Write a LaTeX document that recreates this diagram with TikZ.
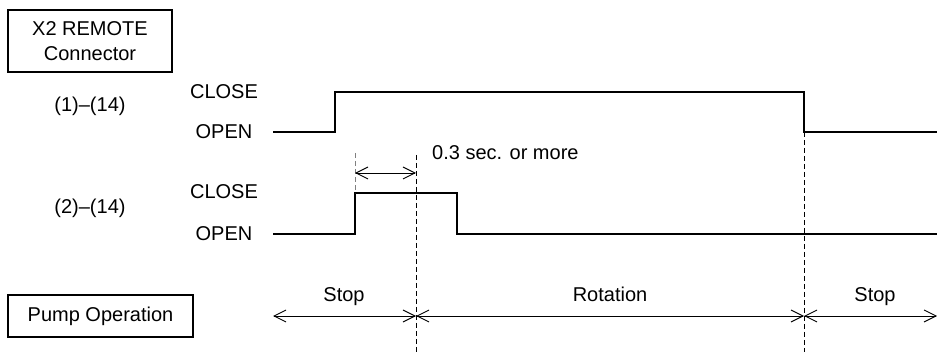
\documentclass[tikz,border=0pt]{standalone}
\usepackage{fontspec}
\setmainfont{Liberation Sans}
\usetikzlibrary{arrows.meta, positioning}
\tikzset{
  font={\fontsize{20pt}{25pt}\selectfont},
  txt/.style={inner sep=0pt, text height=14pt, text depth=0pt},
  sig/.style={line width=2pt, line join=miter},
  guide/.style={line width=0.9pt, dash pattern=on 5pt off 3pt},
  span/.style={line width=0.9pt, {Straight Barb[length=12pt,width=12pt]}-{Straight Barb[length=12pt,width=12pt]}}}

\begin{document}
\begin{tikzpicture}[x=1pt, y=-1pt]
  \useasboundingbox (0,0) rectangle (937,352);
  % boxes on the left
  \node (conn) [draw, line width=1.3pt, shape=rectangle, minimum height=62pt, minimum width=164pt, align=center] at (90,41) {X2 REMOTE\\Connector};
  \node (pump) [draw, line width=1.3pt, shape=rectangle, minimum height=42pt, minimum width=185pt] at (100.5,316) {Pump Operation};
  % signal names and levels
  \node (p1) [txt] at (90,105) {(1)--(14)};
  \node (c1) [txt] at (224,92) {CLOSE};
  \node (o1) [txt] at (224,132) {OPEN};
  \node (p2) [txt] at (90,207) {(2)--(14)};
  \node (c2) [txt] at (224,192) {CLOSE};
  \node (o2) [txt] at (224,234) {OPEN};
  % time points
  \coordinate (a0) at (273,132);
  \coordinate (a1) at (335,92);
  \coordinate (a2) at (804,132);
  \coordinate (a3) at (937,132);
  \coordinate (b0) at (273,234);
  \coordinate (b1) at (355,193);
  \coordinate (b2) at (457,234);
  \coordinate (b3) at (937,234);
  \coordinate (m1) at (355,153);
  \coordinate (m2) at (416,155);
  \coordinate (m3) at (416,352);
  \coordinate (m4) at (804,352);
  \coordinate (d1) at (355,173);
  \coordinate (d2) at (416,173);
  \coordinate (e0) at (273,316);
  \coordinate (e1) at (416,316);
  \coordinate (e2) at (804,316);
  \coordinate (e3) at (937,316);
  % waveforms
  \draw[sig] (a0) -| (a1) -| (a2) -- (a3);
  \draw[sig] (b0) -| (b1) -| (b2) -- (b3);
  % guides
  \draw[guide, gray] (m1) -- (b1);
  \draw[guide] (m2) -- (m3);
  \draw[guide] (a2) -- (m4);
  % timing
  \draw[span] (d1) -- (d2);
  \node (t1) [txt, anchor=west] at (432,153) {0.3 sec. or more};
  \draw[span] (e0) -- (e1);
  \draw[span] (e1) -- (e2);
  \draw[span] (e2) -- (e3);
  \node (s1) [txt] at (344,295) {Stop};
  \node (r1) [txt] at (610,295) {Rotation};
  \node (s2) [txt] at (875,295) {Stop};
\end{tikzpicture}
\end{document}
